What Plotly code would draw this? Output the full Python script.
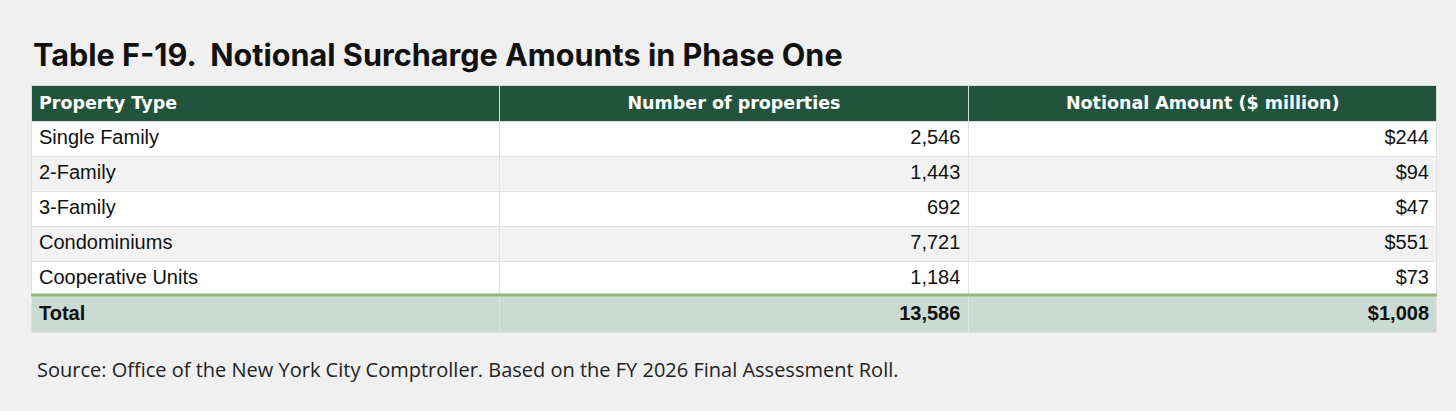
import plotly.graph_objects as go

# Tabla F-19: datos
property_types = ["Single Family", "2-Family", "3-Family", "Condominiums", "Cooperative Units"]
num_properties = [2546, 1443, 692, 7721, 1184]
notional_amount = [244, 94, 47, 551, 73]  # $ million
total_properties = 13586
total_amount = 1008  # tal cual aparece (redondeo)

headers = ["<b>Property Type</b>", "<b>Number of properties</b>", "<b>Notional Amount ($ million)</b>"]

W, H = 1456, 411

col1 = property_types
col2 = [f"{n:,}" for n in num_properties]
col3 = [f"${a:,}" for a in notional_amount]
total_row = ["<b>Total</b>", f"<b>{total_properties:,}</b>", f"<b>${total_amount:,}</b>"]

row_fill = ["#ffffff" if i % 2 == 0 else "#f2f2f2" for i in range(len(property_types))]

left, right = 31 / W, 1437 / W
top = 85
header_h, row_h = 33, 35
y_total = 294

fig = go.Figure()
fig.add_trace(go.Table(
    domain=dict(x=[left, right], y=[1 - (y_total + 4) / H, 1 - top / H]),
    header=dict(
        values=headers,
        fill_color="#22543d",
        line_color="#dcdcdc",
        align=["left", "center", "center"],
        font=dict(family="DejaVu Sans", size=17.5, color="white"),
        height=header_h,
    ),
    cells=dict(
        values=[col1, col2, col3],
        fill_color=[row_fill] * 3,
        line_color="#e2e2e2",
        align=["left", "right", "right"],
        font=dict(family="Liberation Sans", size=20, color="#111111"),
        height=row_h,
    ),
))

# fila de total como tabla aparte
fig.add_trace(go.Table(
    domain=dict(x=[left, right], y=[0, 1 - y_total / H]),
    header=dict(
        values=total_row,
        fill_color="#cadbd3",
        line_color="#dfe6e2",
        align=["left", "right", "right"],
        font=dict(family="Liberation Sans", size=20, color="#111111"),
        height=36,
    ),
    cells=dict(values=[[], [], []]),
))

# linea verde sobre la fila de total
fig.add_shape(type="line", xref="paper", yref="paper",
              x0=left, x1=right, y0=1 - (y_total + 1) / H, y1=1 - (y_total + 1) / H,
              line=dict(color="#8fb87a", width=3))

fig.add_annotation(text="<b>Table F-19.  Notional Surcharge Amounts in Phase One</b>",
                   xref="paper", yref="paper", x=31 / W, y=1 - 55 / H,
                   xanchor="left", yanchor="middle", showarrow=False,
                   font=dict(family="Inter", size=30.6, color="#111111"))

fig.add_annotation(text="Source: Office of the New York City Comptroller. Based on the FY 2026 Final Assessment Roll.",
                   xref="paper", yref="paper", x=35 / W, y=1 - 369 / H,
                   xanchor="left", yanchor="middle", showarrow=False,
                   font=dict(family="Open Sans", size=20, color="#222222"))

fig.update_layout(
    width=W, height=H,
    paper_bgcolor="#f0f0f0",
    margin=dict(l=0, r=0, t=0, b=0),
    showlegend=False,
)

fig.write_html("out.html", config={"displayModeBar": False},
               post_script="document.body.style.margin='0';")
